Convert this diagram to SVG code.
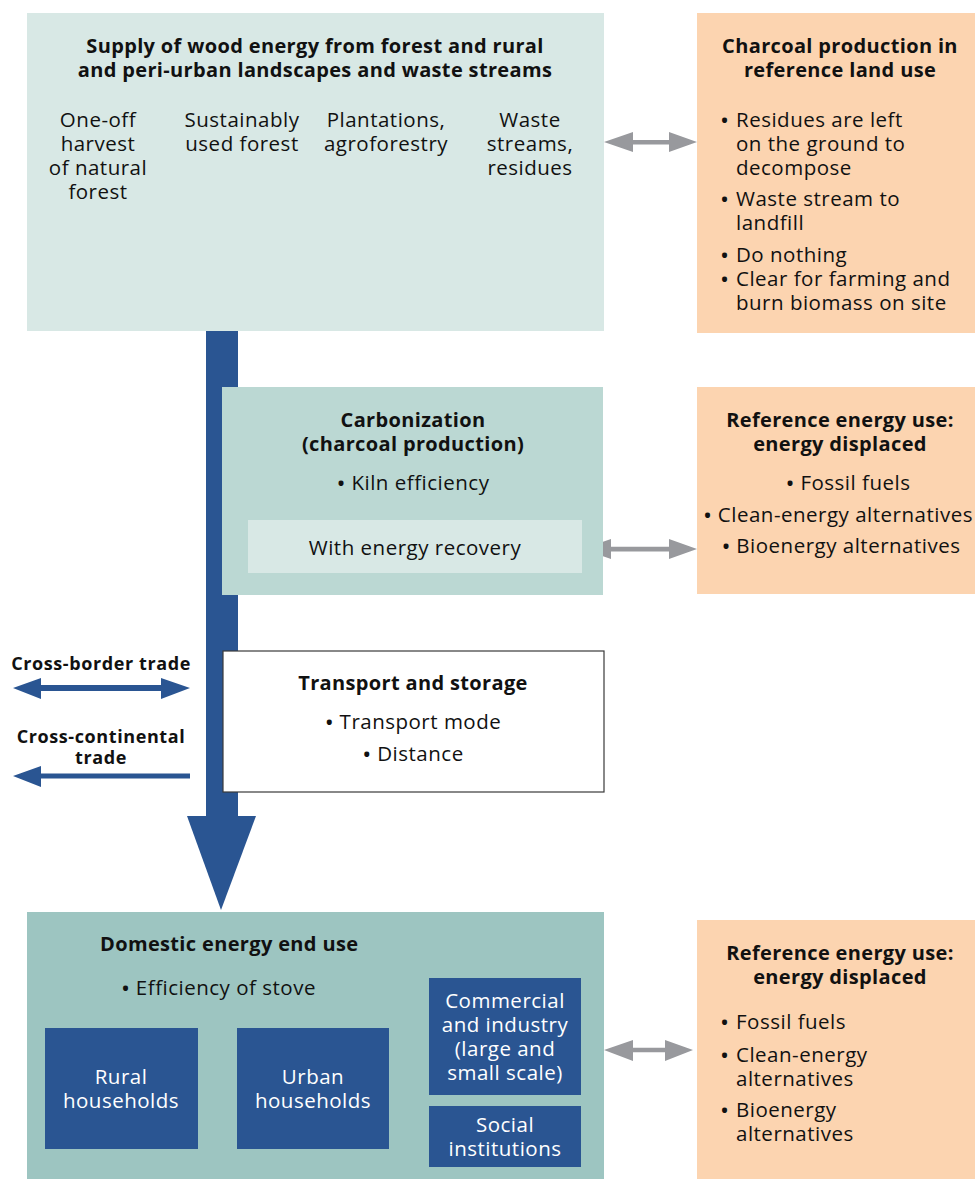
<svg xmlns="http://www.w3.org/2000/svg" width="975" height="1179" viewBox="0 0 975 1179">
  <defs>
    <style>
      text { font-family: "Open Sans", "Noto Sans", "DejaVu Sans", sans-serif; fill: #111; }
      .h { font-weight: 700; font-size: 20px; letter-spacing: 0.35px; }
      .b { font-size: 20.5px; letter-spacing: 0.5px; }
      .c { text-anchor: middle; }
      .w { fill: #ffffff; }
      .t { font-weight: 700; font-size: 18px; letter-spacing: 0.6px; }
      .dot { font-size: 24px; letter-spacing: 0; }
      .supply { fill: #d8e8e5; }
      .carbon { fill: #bbd8d3; }
      .enduse { fill: #9dc5c1; }
      .ref { fill: #fcd4b0; }
      .blue { fill: #2a5592; }
      .grey { fill: #98999d; }
    </style>
  </defs>

  <!-- main flow bar, drawn under the process boxes -->
  <g id="connectors">
    <rect class="blue" x="206" y="330" width="32" height="487"/>
    <polygon class="blue" points="187,816 256,816 221,910"/>

    <!-- source arrows -->
    <g class="blue">
      <rect x="96.5" y="217" width="5" height="66"/>
      <polygon points="89,281 109,281 99,308"/>
      <rect x="240.5" y="217" width="5" height="66"/>
      <polygon points="233,281 253,281 243,308"/>
      <rect x="384.5" y="217" width="5" height="66"/>
      <polygon points="377,281 397,281 387,308"/>
      <rect x="527.5" y="217" width="5" height="66"/>
      <polygon points="520,281 540,281 530,308"/>
    </g>

    <!-- two-way links to reference cases -->
    <g class="grey">
      <polygon points="604,142 633,132 633,140 669,140 669,132 697,142 669,152 669,144.5 633,144.5 633,152"/>
      <polygon points="582,549 611,539 611,546.8 669,546.8 669,539 697,549 669,559 669,551.4 611,551.4 611,559"/>
      <polygon points="604,1050 633,1040 633,1047.7 665,1047.7 665,1040 693,1050 665,1061 665,1052.3 633,1052.3 633,1061"/>
    </g>

    <!-- trade arrows -->
    <g class="blue">
      <polygon points="13,688 41,678 41,685 161,685 161,678 190,688 161,699 161,691 41,691 41,699"/>
      <polygon points="13,776 41,766 41,773.5 190,773.5 190,778.5 41,778.5 41,787"/>
    </g>
  </g>

  <g id="supply">
    <rect class="supply" x="27" y="13" width="577" height="318"/>
    <text class="h c"><tspan x="315" y="53">Supply of wood energy from forest and rural</tspan><tspan x="315" y="77">and peri-urban landscapes and waste streams</tspan></text>
    <text class="b c"><tspan x="98" y="127">One-off</tspan><tspan x="98" y="151">harvest</tspan><tspan x="98" y="175">of natural</tspan><tspan x="98" y="199">forest</tspan></text>
    <text class="b c"><tspan x="242" y="127">Sustainably</tspan><tspan x="242" y="151">used forest</tspan></text>
    <text class="b c"><tspan x="386" y="127">Plantations,</tspan><tspan x="386" y="151">agroforestry</tspan></text>
    <text class="b c"><tspan x="530" y="127">Waste</tspan><tspan x="530" y="151">streams,</tspan><tspan x="530" y="175">residues</tspan></text>
  </g>

  <g id="ref-land-use">
    <rect class="ref" x="697" y="13" width="278" height="320"/>
    <text class="h c"><tspan x="840" y="53">Charcoal production in</tspan><tspan x="840" y="77">reference land use</tspan></text>
    <g class="b">
      <text class="dot" x="720" y="129">•</text>
      <text><tspan x="736" y="127">Residues are left</tspan><tspan x="736" y="151">on the ground to</tspan><tspan x="736" y="175">decompose</tspan></text>
      <text class="dot" x="720" y="208">•</text>
      <text><tspan x="736" y="206">Waste stream to</tspan><tspan x="736" y="230">landfill</tspan></text>
      <text class="dot" x="720" y="264">•</text>
      <text x="736" y="262">Do nothing</text>
      <text class="dot" x="720" y="288">•</text>
      <text><tspan x="736" y="286">Clear for farming and</tspan><tspan x="736" y="310">burn biomass on site</tspan></text>
    </g>
  </g>

  <g id="carbonization">
    <rect class="carbon" x="222" y="387" width="381" height="208"/>
    <text class="h c"><tspan x="413" y="427">Carbonization</tspan><tspan x="413" y="451">(charcoal production)</tspan></text>
    <text class="b c" x="413" y="490"><tspan class="dot" dy="2">•</tspan><tspan dy="-2"> Kiln efficiency</tspan></text>
    <rect class="supply" x="248" y="520" width="334" height="53"/>
    <text class="b c" x="415" y="555">With energy recovery</text>
  </g>

  <g id="ref-energy-1">
    <rect class="ref" x="697" y="387" width="278" height="207"/>
    <text class="h c"><tspan x="840" y="427">Reference energy use:</tspan><tspan x="840" y="451">energy displaced</tspan></text>
    <text class="b c" x="848" y="490"><tspan class="dot" dy="2">•</tspan><tspan dy="-2"> Fossil fuels</tspan></text>
    <text class="b" x="703" y="522"><tspan class="dot" dy="2">•</tspan><tspan dy="-2"> Clean-energy alternatives</tspan></text>
    <text class="b c" x="841" y="553"><tspan class="dot" dy="2">•</tspan><tspan dy="-2"> Bioenergy alternatives</tspan></text>
  </g>

  <g id="trade-labels">
    <text class="t c" x="101" y="670">Cross-border trade</text>
    <text class="t c"><tspan x="101" y="743">Cross-continental</tspan><tspan x="101" y="764">trade</tspan></text>
  </g>

  <g id="transport">
    <rect x="223" y="651" width="381" height="141" fill="#ffffff" stroke="#3a3a3a" stroke-width="1.2"/>
    <text class="h c" x="413" y="690">Transport and storage</text>
    <text class="b c" x="413" y="729"><tspan class="dot" dy="2">•</tspan><tspan dy="-2"> Transport mode</tspan></text>
    <text class="b c" x="413" y="761"><tspan class="dot" dy="2">•</tspan><tspan dy="-2"> Distance</tspan></text>
  </g>

  <g id="end-use">
    <rect class="enduse" x="27" y="912" width="577" height="267"/>
    <text class="h" x="100" y="951">Domestic energy end use</text>
    <text class="b" x="121" y="995"><tspan class="dot" dy="2">•</tspan><tspan dy="-2"> Efficiency of stove</tspan></text>
  </g>

  <g id="rural">
    <rect class="blue" x="45" y="1028" width="153" height="121"/>
    <text class="b c w"><tspan x="121" y="1084">Rural</tspan><tspan x="121" y="1108">households</tspan></text>
  </g>

  <g id="urban">
    <rect class="blue" x="237" y="1028" width="152" height="121"/>
    <text class="b c w"><tspan x="313" y="1084">Urban</tspan><tspan x="313" y="1108">households</tspan></text>
  </g>

  <g id="commercial">
    <rect class="blue" x="429" y="978" width="152" height="117"/>
    <text class="b c w"><tspan x="505" y="1008">Commercial</tspan><tspan x="505" y="1032">and industry</tspan><tspan x="505" y="1056">(large and</tspan><tspan x="505" y="1080">small scale)</tspan></text>
  </g>

  <g id="social">
    <rect class="blue" x="429" y="1106" width="152" height="61"/>
    <text class="b c w"><tspan x="505" y="1132">Social</tspan><tspan x="505" y="1156">institutions</tspan></text>
  </g>

  <g id="ref-energy-2">
    <rect class="ref" x="697" y="920" width="278" height="259"/>
    <text class="h c"><tspan x="840" y="960">Reference energy use:</tspan><tspan x="840" y="984">energy displaced</tspan></text>
    <g class="b">
      <text class="dot" x="720" y="1031">•</text>
      <text x="736" y="1029">Fossil fuels</text>
      <text class="dot" x="720" y="1064">•</text>
      <text><tspan x="736" y="1062">Clean-energy</tspan><tspan x="736" y="1086">alternatives</tspan></text>
      <text class="dot" x="720" y="1119">•</text>
      <text><tspan x="736" y="1117">Bioenergy</tspan><tspan x="736" y="1141">alternatives</tspan></text>
    </g>
  </g>
</svg>
